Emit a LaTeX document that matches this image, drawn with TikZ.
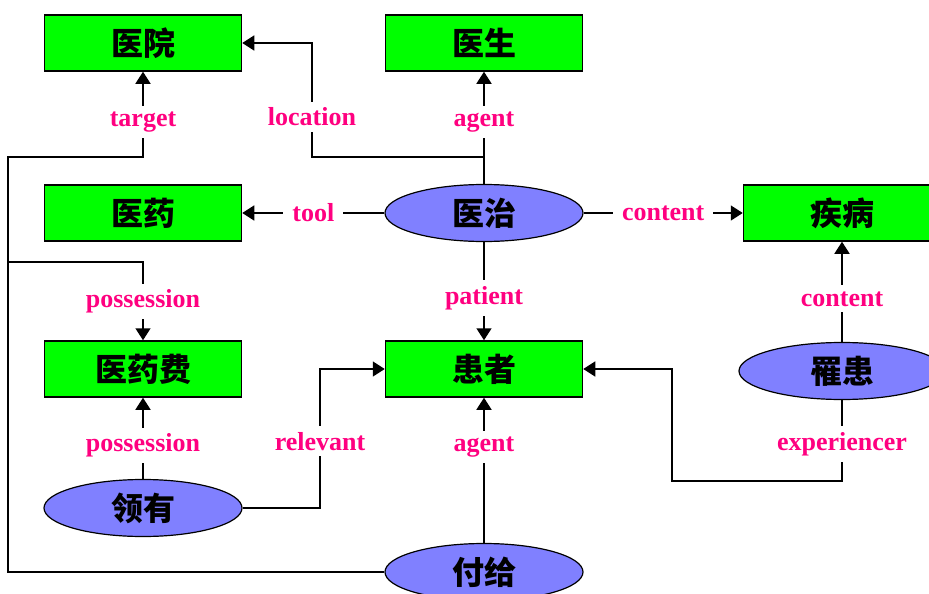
\documentclass[tikz,border=0pt]{standalone}
\usepackage{fontspec}
\setmainfont{Liberation Serif}
\newfontfamily\cjk{Noto Sans CJK SC}
\usetikzlibrary{shapes.geometric,arrows.meta}
\definecolor{boxgreen}{RGB}{0,255,0}
\definecolor{evblue}{RGB}{128,128,255}
\definecolor{rolepink}{RGB}{255,0,128}
\begin{document}
\begin{tikzpicture}[x=1pt, y=-1pt,
    concept/.style={draw=black, line width=1.5pt, fill=boxgreen, minimum width=197pt,
        minimum height=56pt, inner sep=0pt, font=\cjk\bfseries\fontsize{32}{32}\selectfont},
    event/.style={ellipse, draw=black, line width=1.2pt, fill=evblue, minimum width=198pt,
        minimum height=57pt, inner sep=0pt, font=\cjk\bfseries\fontsize{32}{32}\selectfont},
    role/.style={fill=white, text=rolepink, inner xsep=9pt, inner ysep=6pt,
        font=\bfseries\fontsize{26}{26}\selectfont},
    arc/.style={line width=1.5pt, -{Triangle[width=15pt,length=12pt]}}]
    \clip (0,0) rectangle (929,594);
    % concepts
    \node[concept] (yy) at (143,43) {医院};
    \node[concept] (ys) at (484,43) {医生};
    \node[concept] (yyao) at (143,213) {医药};
    \node[concept] (jb) at (842,213) {疾病};
    \node[concept] (yyf) at (143,369) {医药费};
    \node[concept] (hz) at (484,369) {患者};
    % events
    \node[event] (yz) at (484,213) {医治};
    \node[event, minimum width=206pt] (lh) at (842,371) {罹患};
    \node[event] (ly) at (143,508) {领有};
    \node[event] (fg) at (484,572) {付给};
    % relations
    \draw[arc] (yz.north) -- node[role,pos=0.55]{agent} (ys.south);
    \draw[arc] (yz.north |- 0,157) -- (312,157) -- node[role,pos=0.35]{location} (312,43) -- (yy.east);
    \draw[arc] (yz.west) -- node[role]{tool} (yyao.east);
    \draw[arc] (yz.east) -- node[role]{content} (jb.west);
    \draw[arc] (yz.south) -- node[role,pos=0.57]{patient} (hz.north);
    \draw[arc] (lh.north) -- node[role,pos=0.43]{content} (jb.south);
    \draw[arc] (lh.south) |- node[role,pos=0.27]{experiencer} (672,481) |- (hz.east);
    \draw[arc] (fg.north) -- node[role,pos=0.66]{agent} (hz.south);
    \draw[arc] (fg.west) -- (8,572) |- (143,157) -- node[role,pos=0.41]{target} (yy.south);
    \draw[arc] (8,262) -| node[role,pos=0.753]{possession} (yyf.north);
    \draw[arc] (ly.north) -- node[role,pos=0.41]{possession} (yyf.south);
    \draw[arc] (ly.east) -- (320,508) |- node[role,pos=0.24]{relevant} (hz.west);
\end{tikzpicture}
\end{document}
